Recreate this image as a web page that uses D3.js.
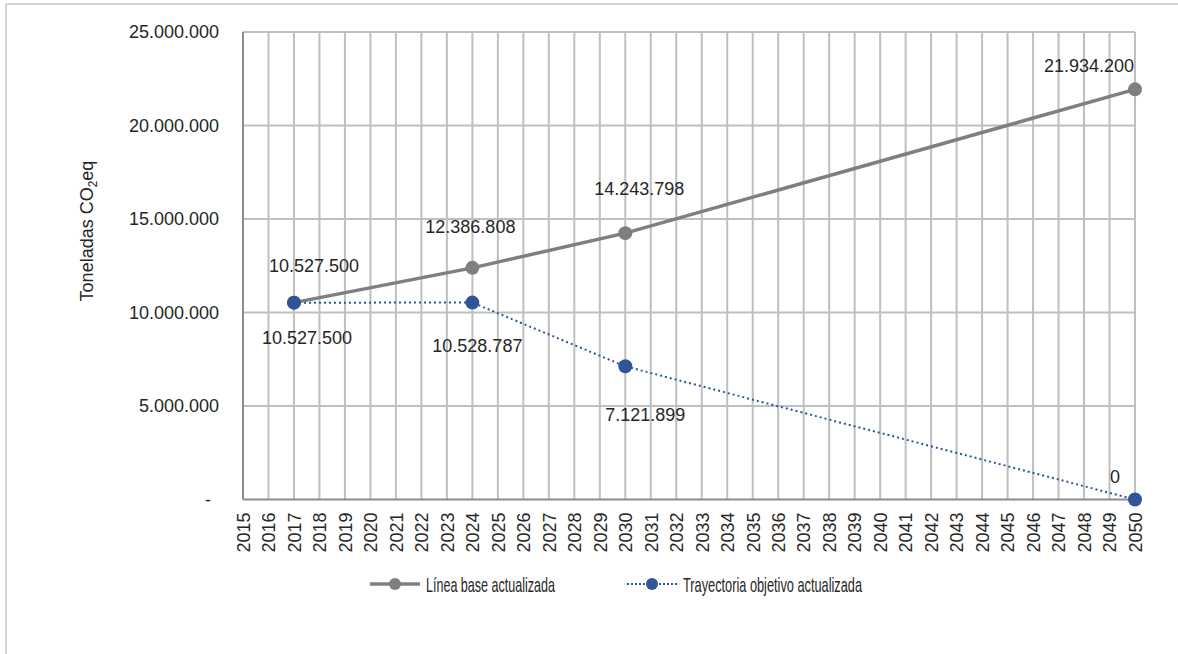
<!DOCTYPE html>
<html>
<head>
<meta charset="utf-8">
<script src="https://cdn.jsdelivr.net/npm/d3@7"></script>
<style>
  html, body { margin: 0; padding: 0; background: #fff; }
  svg { display: block; }
  text { font-family: "Liberation Sans", Arial, sans-serif; fill: #262626; }
</style>
</head>
<body>
<svg id="chart" width="1178" height="654"></svg>
<script>
// ---- data ----
const years = d3.range(2015, 2051);
const baseYears = [2017, 2024, 2030, 2050];
const baseValues = [10527500, 12386808, 14243798, 21934200];
const targetYears = [2017, 2024, 2030, 2050];
const targetValues = [10527500, 10528787, 7121899, 0];
const yTicks = [0, 5000000, 10000000, 15000000, 20000000, 25000000];
const seriesNames = ["Línea base actualizada", "Trayectoria objetivo actualizada"];
const yTitle = "Toneladas CO";

// ---- layout (label offsets in px, not data) ----
const baseLabelOffsets = [[20, -37], [-2, -41], [14, -44], [-46, -24]];
const targetLabelOffsets = [[13, 35], [5, 43], [20, 48], [-20, -23]];
const legendTextWidths = [129, 179];

const svg = d3.select("#chart");
const W = 1178, H = 654;
const m = { left: 243, right: 1135, top: 32, bottom: 499.5 };

const locale = d3.formatLocale({ decimal: ",", thousands: ".", grouping: [3], currency: ["", ""] });
const fmt = locale.format(",.0f");

const x = d3.scaleLinear().domain([2015, 2050]).range([m.left, m.right]);
const y = d3.scaleLinear().domain([0, 25000000]).range([m.bottom, m.top]);

// outer frame
svg.append("line").attr("x1", 6).attr("x2", W).attr("y1", 4).attr("y2", 4)
  .attr("stroke", "#d4d4d4").attr("stroke-width", 2);
svg.append("line").attr("x1", 6).attr("x2", 6).attr("y1", 4).attr("y2", H)
  .attr("stroke", "#d4d4d4").attr("stroke-width", 2);

// gridlines
const grid = svg.append("g");
grid.selectAll("line.v").data(years.slice(1)).join("line")
  .attr("x1", d => x(d)).attr("x2", d => x(d))
  .attr("y1", m.top).attr("y2", m.bottom)
  .attr("stroke", "#bfbfbf").attr("stroke-width", 2);
grid.selectAll("line.h").data(yTicks.slice(1)).join("line")
  .attr("x1", m.left).attr("x2", m.right)
  .attr("y1", d => y(d)).attr("y2", d => y(d))
  .attr("stroke", "#bfbfbf").attr("stroke-width", 2);

// axes lines
svg.append("line").attr("x1", m.left).attr("x2", m.left).attr("y1", m.top).attr("y2", m.bottom)
  .attr("stroke", "#8c8c8c").attr("stroke-width", 2);
svg.append("line").attr("x1", m.left).attr("x2", m.right).attr("y1", m.bottom).attr("y2", m.bottom)
  .attr("stroke", "#8c8c8c").attr("stroke-width", 2);

// y tick labels
const yAxis = d3.axisLeft(y).tickValues(yTicks).tickSize(0).tickPadding(24)
  .tickFormat(d => d === 0 ? "-" : fmt(d));
const yg = svg.append("g").attr("transform", `translate(${m.left},0)`).call(yAxis);
yg.select(".domain").remove();
yg.selectAll("text").attr("font-size", 18).style("font-family", null).attr("fill", "#262626")
  .attr("dx", d => d === 0 ? -8 : 0);

// x tick labels
const xAxis = d3.axisBottom(x).tickValues(years).tickSize(0).tickFormat(d => String(d));
const xg = svg.append("g").attr("transform", `translate(0,${m.bottom})`).call(xAxis);
xg.select(".domain").remove();
xg.selectAll("text").attr("font-size", 18).style("font-family", null).attr("fill", "#262626")
  .attr("transform", "rotate(-90)")
  .attr("text-anchor", "end")
  .attr("x", -13).attr("y", 0).attr("dy", "0.35em");

// y title
const yt = svg.append("text").attr("transform", "translate(93,231) rotate(-90)")
  .attr("text-anchor", "middle").attr("font-size", 18);
yt.append("tspan").text(yTitle);
yt.append("tspan").text("2").attr("font-size", 12).attr("dy", 4);
yt.append("tspan").text("eq").attr("dy", -4);

// lines
const line = d3.line().x(d => x(d[0])).y(d => y(d[1]));
const baseData = baseYears.map((d, i) => [d, baseValues[i]]);
const targetData = targetYears.map((d, i) => [d, targetValues[i]]);

const grayC = "#7f7f7f", blueC = "#2f5597";

svg.append("path").datum(baseData).attr("d", line).attr("fill", "none")
  .attr("stroke", grayC).attr("stroke-width", 3.5);
svg.append("path").datum(targetData).attr("d", line).attr("fill", "none")
  .attr("stroke", blueC).attr("stroke-width", 2).attr("stroke-dasharray", "2,3");

svg.selectAll("circle.base").data(baseData).join("circle")
  .attr("cx", d => x(d[0])).attr("cy", d => y(d[1])).attr("r", 7).attr("fill", grayC);
svg.selectAll("circle.target").data(targetData).join("circle")
  .attr("cx", d => x(d[0])).attr("cy", d => y(d[1])).attr("r", 7).attr("fill", blueC);

// data labels
svg.selectAll("text.bl").data(baseData).join("text")
  .attr("x", (d, i) => x(d[0]) + baseLabelOffsets[i][0])
  .attr("y", (d, i) => y(d[1]) + baseLabelOffsets[i][1])
  .attr("dy", "0.35em").attr("text-anchor", "middle").attr("font-size", 18)
  .text(d => fmt(d[1]));
svg.selectAll("text.tl").data(targetData).join("text")
  .attr("x", (d, i) => x(d[0]) + targetLabelOffsets[i][0])
  .attr("y", (d, i) => y(d[1]) + targetLabelOffsets[i][1])
  .attr("dy", "0.35em").attr("text-anchor", "middle").attr("font-size", 18)
  .text(d => fmt(d[1]));

// legend
const lg = svg.append("g");
const ly = 584;
lg.append("line").attr("x1", 370).attr("x2", 420).attr("y1", ly).attr("y2", ly)
  .attr("stroke", grayC).attr("stroke-width", 3.5);
lg.append("circle").attr("cx", 395).attr("cy", ly).attr("r", 6).attr("fill", grayC);
lg.append("text").attr("x", 426).attr("y", ly).attr("dy", "0.36em").attr("font-size", 21)
  .attr("textLength", legendTextWidths[0]).attr("lengthAdjust", "spacingAndGlyphs")
  .text(seriesNames[0]);
lg.append("line").attr("x1", 627).attr("x2", 678).attr("y1", ly).attr("y2", ly)
  .attr("stroke", blueC).attr("stroke-width", 2).attr("stroke-dasharray", "2,2");
lg.append("circle").attr("cx", 652).attr("cy", ly).attr("r", 6).attr("fill", blueC);
lg.append("text").attr("x", 683).attr("y", ly).attr("dy", "0.36em").attr("font-size", 21)
  .attr("textLength", legendTextWidths[1]).attr("lengthAdjust", "spacingAndGlyphs")
  .text(seriesNames[1]);
</script>
</body>
</html>
